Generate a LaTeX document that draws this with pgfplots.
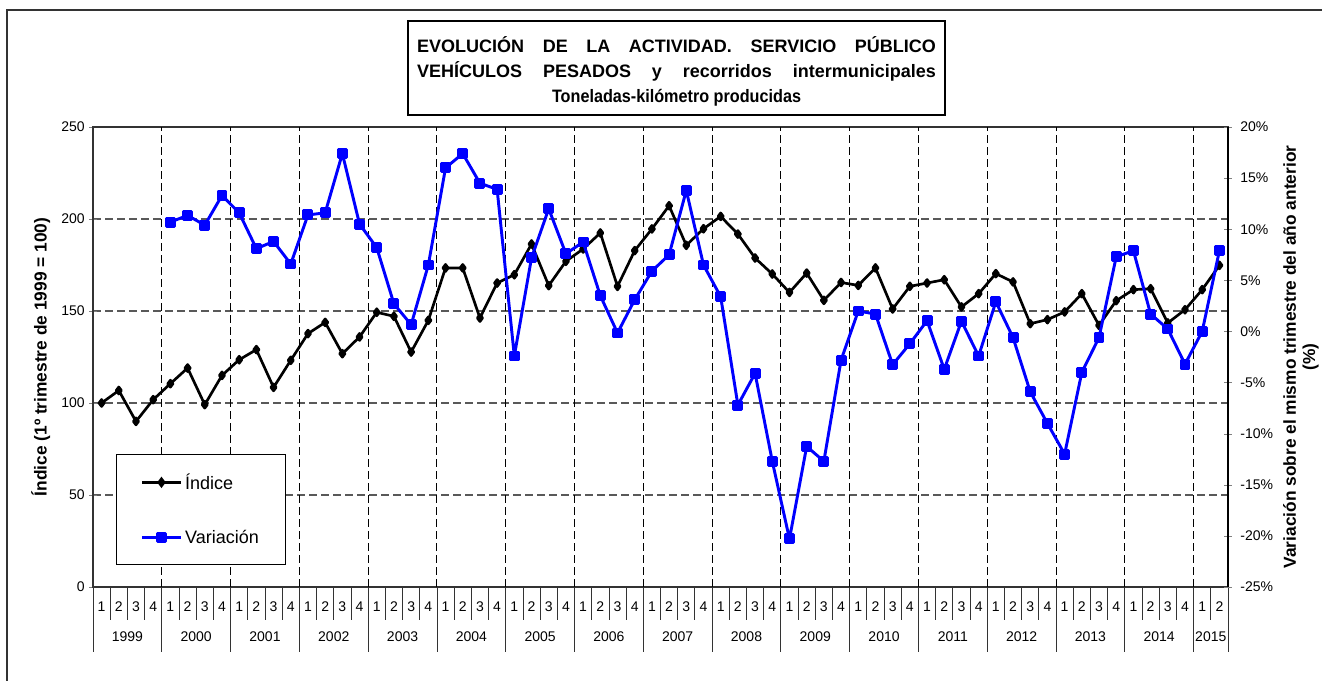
\documentclass[border=0pt]{standalone}
\usepackage{fontspec}
\setmainfont{Liberation Sans}
\usepackage{pgfplots}
\pgfplotsset{compat=1.18}
\definecolor{vblue}{RGB}{0,0,255}

\pgfplotstableread{
q val
0 100.0
1 106.8
2 90.0
3 101.8
4 110.5
5 119.0
6 99.1
7 115.0
8 123.5
9 129.0
10 108.5
11 123.2
12 137.7
13 143.8
14 126.8
15 135.9
16 149.3
17 147.1
18 127.7
19 144.9
20 173.4
21 173.4
22 146.2
23 165.2
24 169.7
25 186.4
26 163.8
27 177.0
28 183.7
29 192.4
30 163.4
31 182.8
32 194.6
33 207.2
34 185.7
35 194.7
36 201.4
37 191.8
38 178.8
39 170.1
40 160.1
41 170.6
42 155.8
43 165.5
44 163.9
45 173.4
46 151.1
47 163.4
48 165.2
49 167.0
50 152.2
51 159.4
52 170.3
53 165.8
54 143.1
55 145.3
56 149.5
57 159.4
58 142.2
59 155.6
60 161.6
61 162.1
62 143.5
63 150.7
64 161.6
65 174.8
}\indice

\pgfplotstableread{
q val
4 10.7
5 11.35
6 10.4
7 13.3
8 11.6
9 8.1
10 8.8
11 6.6
12 11.4
13 11.6
14 17.4
15 10.5
16 8.2
17 2.7
18 0.66
19 6.5
20 16.0
21 17.4
22 14.5
23 13.9
24 -2.4
25 7.2
26 12.0
27 7.6
28 8.75
29 3.5
30 -0.15
31 3.1
32 5.9
33 7.5
34 13.8
35 6.5
36 3.4
37 -7.2
38 -4.1
39 -12.7
40 -20.3
41 -11.25
42 -12.7
43 -2.8
44 2.0
45 1.7
46 -3.25
47 -1.2
48 1.05
49 -3.7
50 1.0
51 -2.4
52 2.9
53 -0.6
54 -5.9
55 -9.0
56 -12.0
57 -4.0
58 -0.6
59 7.3
60 7.9
61 1.7
62 0.24
63 -3.2
64 0.0
65 7.9
}\variacion

\begin{document}
\begin{tikzpicture}
\useasboundingbox (0,0) rectangle (991.5pt,510.75pt);
\draw[line width=1.5pt, black!80] (5.25pt,0pt) -- (5.25pt,503.25pt) -- (991.5pt,503.25pt);

\draw[black, line width=2.1pt] (306pt,424.5pt) rectangle (708.75pt,495pt);
\node[inner sep=0pt, align=center, font=\fontsize{13.5}{18.4}\selectfont\bfseries]
  at (507.4pt,457.2pt)
  {\makebox[389pt][s]{EVOLUCIÓN DE LA ACTIVIDAD. SERVICIO PÚBLICO}\\
   \makebox[389pt][s]{VEHÍCULOS PESADOS y recorridos intermunicipales}\\
   \scalebox{0.9}[1]{Toneladas-kilómetro producidas}};

\begin{axis}[
  at={(69.75pt,70.5pt)}, anchor=south west,
  scale only axis, width=851.25pt, height=345pt,
  xmin=-0.5, xmax=65.5, ymin=0, ymax=250,
  clip=false,
  axis line style={black!80, line width=0.9pt},
  ytick={0,50,100,150,200,250}, yticklabels={0,50,100,150,200,250},
  ytick pos=left, ytick align=center, major tick length=5.5pt,
  yticklabel style={font=\fontsize{10.5}{12}\selectfont},
  xtick=\empty,
  extra x ticks={3.5,7.5,11.5,15.5,19.5,23.5,27.5,31.5,35.5,39.5,43.5,47.5,51.5,55.5,59.5,63.5},
  extra x tick labels={},
  extra x tick style={grid=major, major tick length=0pt},
  ymajorgrids,
  y grid style={dash pattern=on 6pt off 3pt, black!65, line width=0.9pt},
  x grid style={dash pattern=on 6pt off 3pt, black, line width=0.7pt},
  ylabel={Índice (1º trimestre de 1999 = 100)},
  ylabel style={font=\fontsize{13}{15}\selectfont\bfseries, at={(axis description cs:-0.046,0.5)}, anchor=center},
]
\addplot[black, line width=2pt, line join=round, mark=diamond*, mark size=2.6pt,
         mark options={solid}] table[x=q,y=val] {\indice};

\pgfplotsinvokeforeach{0.5,1.5,...,64.5}{\draw[black!80, line width=0.6pt] (axis cs:#1,0) -- ++(0pt,-24.75pt);}
\pgfplotsinvokeforeach{3.5,7.5,...,63.5}{\draw[black!80, line width=0.6pt] (axis cs:#1,0) -- ++(0pt,-48.75pt);}
\draw[black!80, line width=0.6pt] (axis cs:-0.5,0) -- ++(0pt,-48.75pt);
\draw[black!80, line width=0.6pt] (axis cs:65.5,0) -- ++(0pt,-48.75pt);
\pgfplotsinvokeforeach{0,...,65}{\node[font=\fontsize{10.5}{12}\selectfont] at (axis cs:#1,0) [yshift=-15pt] {\pgfmathparse{int(mod(#1,4)+1)}\pgfmathresult};}
\node[font=\fontsize{10.5}{12}\selectfont] at (axis cs:1.5,0) [yshift=-37.5pt] {1999};
\node[font=\fontsize{10.5}{12}\selectfont] at (axis cs:5.5,0) [yshift=-37.5pt] {2000};
\node[font=\fontsize{10.5}{12}\selectfont] at (axis cs:9.5,0) [yshift=-37.5pt] {2001};
\node[font=\fontsize{10.5}{12}\selectfont] at (axis cs:13.5,0) [yshift=-37.5pt] {2002};
\node[font=\fontsize{10.5}{12}\selectfont] at (axis cs:17.5,0) [yshift=-37.5pt] {2003};
\node[font=\fontsize{10.5}{12}\selectfont] at (axis cs:21.5,0) [yshift=-37.5pt] {2004};
\node[font=\fontsize{10.5}{12}\selectfont] at (axis cs:25.5,0) [yshift=-37.5pt] {2005};
\node[font=\fontsize{10.5}{12}\selectfont] at (axis cs:29.5,0) [yshift=-37.5pt] {2006};
\node[font=\fontsize{10.5}{12}\selectfont] at (axis cs:33.5,0) [yshift=-37.5pt] {2007};
\node[font=\fontsize{10.5}{12}\selectfont] at (axis cs:37.5,0) [yshift=-37.5pt] {2008};
\node[font=\fontsize{10.5}{12}\selectfont] at (axis cs:41.5,0) [yshift=-37.5pt] {2009};
\node[font=\fontsize{10.5}{12}\selectfont] at (axis cs:45.5,0) [yshift=-37.5pt] {2010};
\node[font=\fontsize{10.5}{12}\selectfont] at (axis cs:49.5,0) [yshift=-37.5pt] {2011};
\node[font=\fontsize{10.5}{12}\selectfont] at (axis cs:53.5,0) [yshift=-37.5pt] {2012};
\node[font=\fontsize{10.5}{12}\selectfont] at (axis cs:57.5,0) [yshift=-37.5pt] {2013};
\node[font=\fontsize{10.5}{12}\selectfont] at (axis cs:61.5,0) [yshift=-37.5pt] {2014};
\node[font=\fontsize{10.5}{12}\selectfont] at (axis cs:64.5,0) [yshift=-37.5pt] {2015};
\end{axis}

\begin{axis}[
  at={(69.75pt,70.5pt)}, anchor=south west,
  scale only axis, width=851.25pt, height=345pt,
  xmin=-0.5, xmax=65.5, ymin=-25, ymax=20,
  clip=false,
  axis x line=none, axis y line*=right,
  axis line style={black, line width=0.9pt, -},
  ytick={-25,-20,-15,-10,-5,0,5,10,15,20},
  yticklabels={-25\%,-20\%,-15\%,-10\%,-5\%,0\%,5\%,10\%,15\%,20\%},
  ytick align=center, major tick length=5.5pt,
  yticklabel style={font=\fontsize{10.5}{12}\selectfont, xshift=3pt},
  ylabel={Variación sobre el mismo trimestre del año anterior\\(\%)},
  ylabel style={font=\fontsize{13}{14.5}\selectfont\bfseries, align=center,
                at={(axis description cs:1.0643,0.5)}, anchor=center},
  legend style={at={(axis description cs:0.0203,0.048)}, anchor=south west,
                draw=black, line width=0.75pt, fill=white,
                inner xsep=18pt, inner ysep=12.5pt, row sep=25pt,
                font=\fontsize{13.5}{15}\selectfont},
  legend cell align=left,
  legend image code/.code={\draw[mark repeat=2,mark phase=2] plot coordinates {(0pt,0pt) (14.6pt,0pt) (29.25pt,0pt)};},
]
\addlegendimage{black, line width=2pt, mark=diamond*, mark size=2.6pt}
\addlegendentry{Índice}
\addplot[vblue, line width=2.2pt, line join=round, mark=square*, mark size=3pt,
         mark options={solid}] table[x=q,y=val] {\variacion};
\addlegendentry{Variación}
\end{axis}
\end{tikzpicture}
\end{document}
